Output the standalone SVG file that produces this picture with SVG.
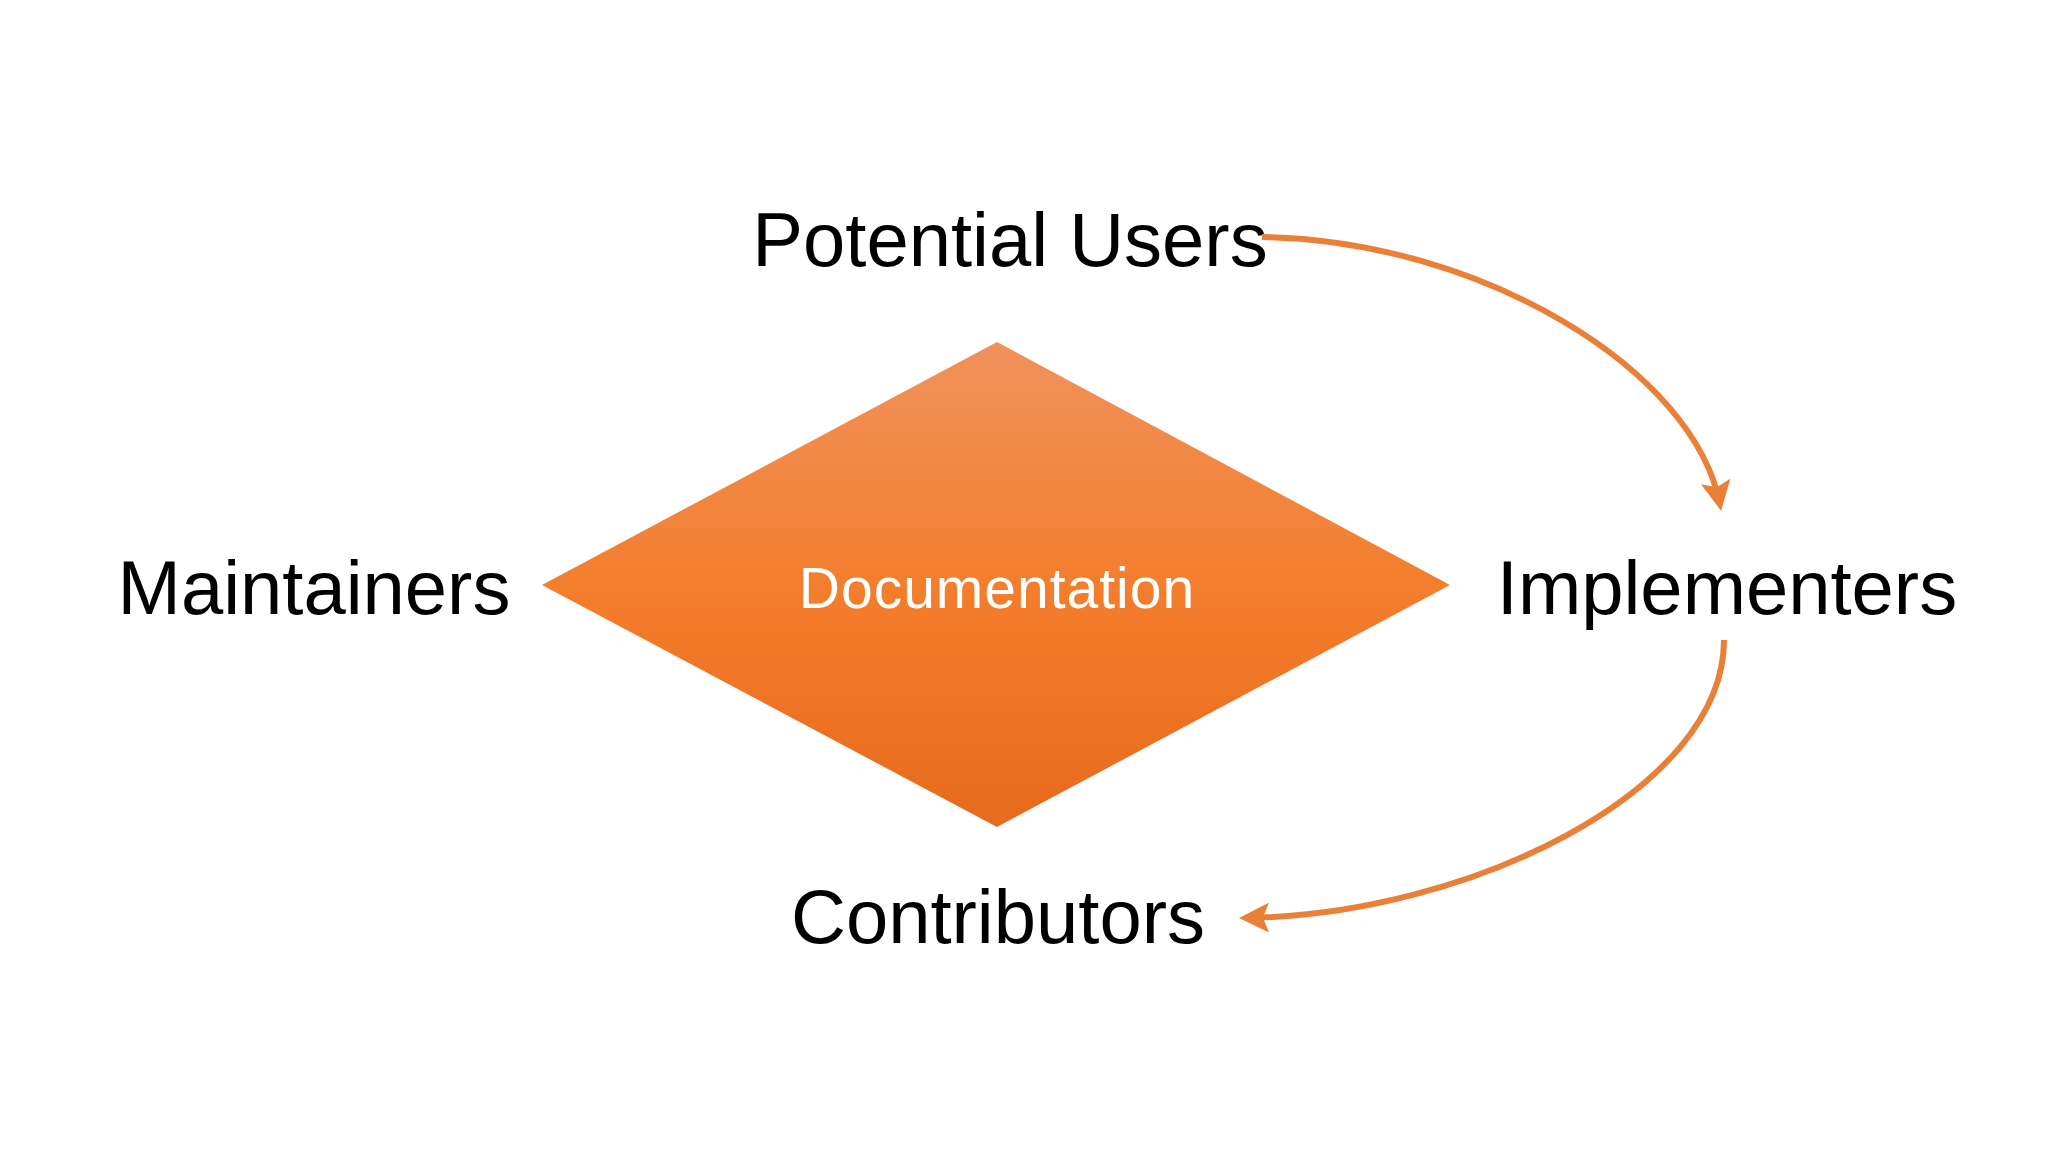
<svg xmlns="http://www.w3.org/2000/svg" width="2048" height="1152" viewBox="0 0 2048 1152">
<defs>
<linearGradient id="g" x1="0" y1="0" x2="0" y2="1">
<stop offset="0" stop-color="#F0925C"/>
<stop offset="0.5" stop-color="#F37E2C"/>
<stop offset="1" stop-color="#E86A1C"/>
</linearGradient>
<marker id="ah" viewBox="0 0 10 10" refX="8" refY="5" markerWidth="5" markerHeight="5" orient="auto" markerUnits="strokeWidth">
<path d="M0,0 L10,5 L0,10 L2,5 Z" fill="#EA8038"/>
</marker>
<style>
.lbl{font-family:"Liberation Sans",Arial,sans-serif;font-size:76px;fill:#000;text-anchor:middle}
.con{fill:none;stroke:#EA8038;stroke-width:6}
</style>
</defs>
<rect width="2048" height="1152" fill="#fff"/>
<g id="documentation">
<polygon points="997,342 1450,585 997,827 542,585" fill="url(#g)"/>
<text x="997" y="608" font-family="Liberation Sans,Arial,sans-serif" font-size="57" fill="#fff" text-anchor="middle" letter-spacing="1">Documentation</text>
</g>
<g id="potential-users"><text class="lbl" x="1010" y="266">Potential Users</text></g>
<g id="maintainers"><text class="lbl" x="314" y="614">Maintainers</text></g>
<g id="implementers"><text class="lbl" x="1727" y="614">Implementers</text></g>
<g id="contributors"><text class="lbl" x="998" y="943">Contributors</text></g>
<g id="connectors">
<path class="con" d="M1262,237 C1480,240 1695,370 1720,505" marker-end="url(#ah)"/>
<path class="con" d="M1724,640 C1724,790 1470,915 1245,918" marker-end="url(#ah)"/>
</g>
</svg>
